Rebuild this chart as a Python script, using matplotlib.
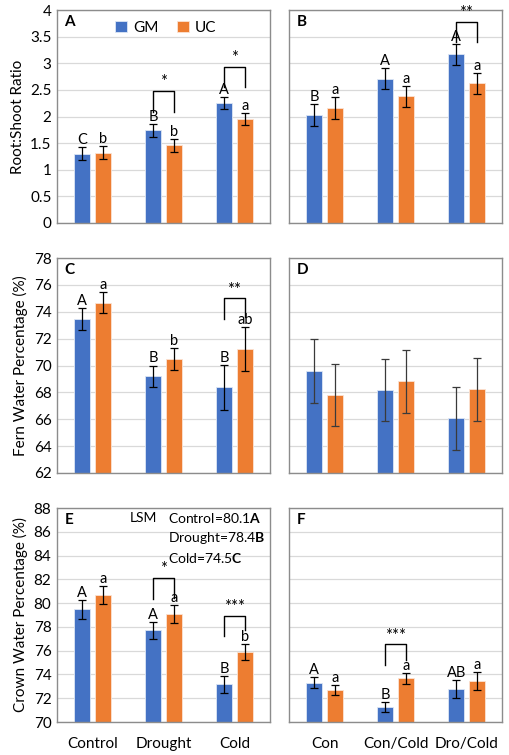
import numpy as np
import matplotlib
matplotlib.use("Agg")
import matplotlib.pyplot as plt

plt.rcParams.update({
    "font.family": ["Lato", "DejaVu Sans"], "font.size": 10,
    "mathtext.fontset": "custom", "mathtext.bf": "Lato:bold",
    "mathtext.rm": "Lato",
})

BLUE, ORANGE = "#4472C4", "#ED7D31"

# ---- data ----
cats_left = ["Control", "Drought", "Cold"]
cats_right = ["Con", "Con/Cold", "Dro/Cold"]

# A: root:shoot, treatments
A_gm = [1.30, 1.74, 2.26]; A_gm_err = [0.12, 0.12, 0.11]
A_uc = [1.32, 1.46, 1.95]; A_uc_err = [0.12, 0.12, 0.11]
A_gm_let = ["C", "B", "A"]; A_uc_let = ["b", "b", "a"]
# B
B_gm = [2.03, 2.71, 3.17]; B_gm_err = [0.20, 0.20, 0.20]
B_uc = [2.16, 2.38, 2.62]; B_uc_err = [0.20, 0.20, 0.20]
B_gm_let = ["B", "A", "A"]; B_uc_let = ["a", "a", "a"]
# C: fern water %
C_gm = [73.45, 69.2, 68.37]; C_gm_err = [0.8, 0.8, 1.65]
C_uc = [74.68, 70.47, 71.25]; C_uc_err = [0.8, 0.8, 1.65]
C_gm_let = ["A", "B", "B"]; C_uc_let = ["a", "b", "ab"]
# D
D_gm = [69.57, 68.17, 66.08]; D_gm_err = [2.38, 2.33, 2.35]
D_uc = [67.82, 68.82, 68.22]; D_uc_err = [2.3, 2.35, 2.35]
# E: crown water %
E_gm = [79.5, 77.7, 73.18]; E_gm_err = [0.8, 0.75, 0.7]
E_uc = [80.67, 79.08, 75.88]; E_uc_err = [0.78, 0.72, 0.7]
E_gm_let = ["A", "A", "B"]; E_uc_let = ["a", "a", "b"]
# F
F_gm = [73.31, 71.27, 72.81]; F_gm_err = [0.45, 0.43, 0.76]
F_uc = [72.66, 73.67, 73.48]; F_uc_err = [0.43, 0.44, 0.76]
F_gm_let = ["A", "B", "AB"]; F_uc_let = ["a", "a", "a"]

# brackets: (category, left leg bottom, top, right leg bottom, stars)
A_br = [(1, 2.08, 2.48, 2.08, "*"), (2, 2.55, 2.93, 2.55, "*")]
B_br = [(2, 3.40, 3.78, 3.40, "**")]
C_br = [(2, 73.47, 74.99, 73.6, "**")]
E_br = [(1, 80.35, 82.15, 80.4, "*"), (2, 77.26, 78.94, 77.73, "***")]
F_br = [(1, 74.8, 76.52, 75.22, "***")]

W, H = 509, 755
def box(x0, y0, x1, y1):
    return [x0 / W, 1 - y1 / H, (x1 - x0) / W, (y1 - y0) / H]

fig = plt.figure(figsize=(W / 100, H / 100), dpi=100)
rows = [(10, 223), (258, 473), (508, 722)]
cols = [(57, 270), (289, 502)]
axes = [[fig.add_axes(box(c[0], r[0], c[1], r[1])) for c in cols] for r in rows]

off, bw = 0.145, 0.22
x = np.arange(3)

def panel(ax, gm, gme, uc, uce, ylim, step, label, gl=None, ul=None, br=(),
          errc="black", left=True, xt=None):
    ax.set_xlim(-0.5, 2.5); ax.set_ylim(*ylim)
    ax.set_yticks(np.arange(ylim[0], ylim[1] + step / 2, step))
    ax.yaxis.grid(True, color="#D9D9D9", lw=0.9); ax.set_axisbelow(True)
    ax.bar(x - off, gm, bw, color=BLUE, edgecolor="#DCE6F5", lw=0.6, label="GM")
    ax.bar(x + off, uc, bw, color=ORANGE, edgecolor="#FBE3D3", lw=0.6, label="UC")
    ax.errorbar(x - off, gm, yerr=gme, fmt="none", ecolor=errc, elinewidth=0.9, capsize=3, capthick=0.9)
    ax.errorbar(x + off, uc, yerr=uce, fmt="none", ecolor=errc, elinewidth=0.9, capsize=3, capthick=0.9)
    if gl:
        for i in range(3):
            ax.annotate(gl[i], (x[i] - off, gm[i] + gme[i]), xytext=(0, 0),
                        textcoords="offset points", ha="center", va="bottom", fontsize=10.5)
            ax.annotate(ul[i], (x[i] + off, uc[i] + uce[i]), xytext=(0, 0),
                        textcoords="offset points", ha="center", va="bottom", fontsize=10.5)
    for c, y1, yt, y2, s in br:
        ax.plot([c - off, c - off, c + off, c + off], [y1, yt, yt, y2], color="black", lw=1)
        ax.annotate(s, (c, yt), xytext=(0, 0.5), textcoords="offset points",
                    ha="center", va="bottom", fontsize=12)
    for sp in ax.spines.values():
        sp.set_color("#8C8C8C"); sp.set_linewidth(1)
    ax.tick_params(length=0, labelsize=11, pad=4)
    ax.set_xticks(x)
    if xt:
        ax.set_xticklabels(xt)
        ax.tick_params(axis="x", pad=11)
    else:
        ax.set_xticklabels([])
    if not left:
        ax.set_yticklabels([])
    ax.text(0.035, 0.975, label, transform=ax.transAxes, fontweight="bold",
            fontsize=11, va="top", ha="left")

axA, axB = axes[0]; axC, axD = axes[1]; axE, axF = axes[2]
panel(axA, A_gm, A_gm_err, A_uc, A_uc_err, (0, 4), 0.5, "A", A_gm_let, A_uc_let, A_br)
panel(axB, B_gm, B_gm_err, B_uc, B_uc_err, (0, 4), 0.5, "B", B_gm_let, B_uc_let, B_br, left=False)
panel(axC, C_gm, C_gm_err, C_uc, C_uc_err, (62, 78), 2, "C", C_gm_let, C_uc_let, C_br)
panel(axD, D_gm, D_gm_err, D_uc, D_uc_err, (62, 78), 2, "D", errc="#3A3A3A", left=False)
panel(axE, E_gm, E_gm_err, E_uc, E_uc_err, (70, 88), 2, "E", E_gm_let, E_uc_let, E_br, xt=cats_left)
panel(axF, F_gm, F_gm_err, F_uc, F_uc_err, (70, 88), 2, "F", F_gm_let, F_uc_let, F_br,
      left=False, xt=cats_right)

axA.set_yticklabels(["0", "0.5", "1", "1.5", "2", "2.5", "3", "3.5", "4"])
axA.set_ylabel("Root:Shoot Ratio", fontsize=11, labelpad=4)
axC.set_ylabel("Fern Water Percentage (%)", fontsize=11, labelpad=4)
axE.set_ylabel("Crown Water Percentage (%)", fontsize=11, labelpad=4)

axA.legend(loc="upper center", bbox_to_anchor=(0.51, 1.0), ncol=2, frameon=False,
           fontsize=11, handlelength=0.8, handleheight=0.8, handletextpad=0.4,
           columnspacing=1.2, borderaxespad=0.3)

axE.text(0.34, 0.955, "LSM", transform=axE.transAxes, va="center", fontsize=10)
axE.text(0.52, 0.955, r"Control=80.1$\mathbf{A}$", transform=axE.transAxes, va="center", fontsize=10)
axE.text(0.52, 0.862, r"Drought=78.4$\mathbf{B}$", transform=axE.transAxes, va="center", fontsize=10)
axE.text(0.52, 0.768, r"Cold=74.5$\mathbf{C}$", transform=axE.transAxes, va="center", fontsize=10)

fig.savefig("out.png", dpi=100, facecolor="white")
